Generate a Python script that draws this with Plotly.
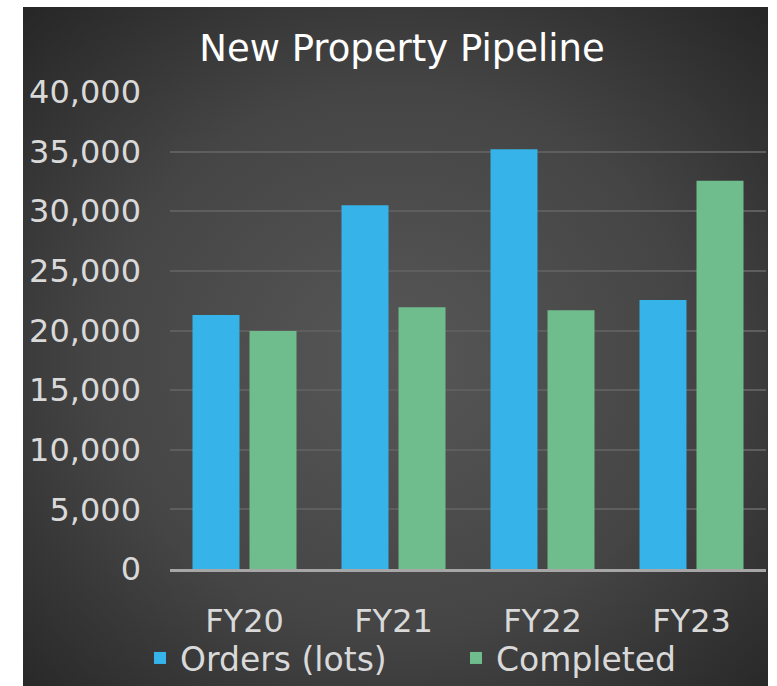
import base64
import plotly.graph_objects as go

categories = ["FY20", "FY21", "FY22", "FY23"]
orders = [21300, 30500, 35200, 22550]
completed = [19950, 21950, 21700, 32550]
series_names = ["Orders (lots)", "Completed"]
y_ticks = [0, 5000, 10000, 15000, 20000, 25000, 30000, 35000, 40000]
title_text = "New Property Pipeline"

W, H = 777, 686
L, R, T, B = 170, 11, 92, 117
pw, ph = W - L - R, H - T - B

def px_x(p):
    return (p - L) / pw

def px_y(p):
    return (H - B - p) / ph

svg = (
    '<svg xmlns="http://www.w3.org/2000/svg" width="745" height="679" '
    'viewBox="0 0 745 679" preserveAspectRatio="none">'
    '<defs><radialGradient id="g" cx="50%" cy="52%" r="72%" fx="50%" fy="52%">'
    '<stop offset="0" stop-color="#575757"/>'
    '<stop offset="0.55" stop-color="#454545"/>'
    '<stop offset="1" stop-color="#262626"/>'
    '</radialGradient></defs>'
    '<rect width="745" height="679" fill="url(#g)"/></svg>'
)
src = "data:image/svg+xml;base64," + base64.b64encode(svg.encode()).decode()

font_fam = "DejaVu Sans"
txt_col = "#d9d9d9"

fig = go.Figure()
fig.add_trace(go.Bar(x=categories, y=orders, name=series_names[0], legend="legend",
                     marker=dict(color="#36b3e8", line=dict(width=0))))
fig.add_trace(go.Bar(x=categories, y=completed, name=series_names[1], legend="legend2",
                     marker=dict(color="#6fbd8c", line=dict(width=0))))

leg_common = dict(orientation="h", xref="container", xanchor="left",
                  y=1 - 658 / H, yref="container", yanchor="middle",
                  font=dict(family=font_fam, size=33, color=txt_col),
                  bgcolor="rgba(0,0,0,0)", itemwidth=30)

fig.update_layout(
    width=W, height=H,
    margin=dict(l=L, r=R, t=T, b=B, pad=0, autoexpand=False),
    paper_bgcolor="white",
    plot_bgcolor="rgba(0,0,0,0)",
    barmode="group",
    bargap=0.235,
    bargroupgap=0.175,
    font=dict(family=font_fam, size=32, color=txt_col),
    title=dict(text=title_text, x=402 / W, xref="container", xanchor="center",
               y=1 - 48 / H, yref="container", yanchor="middle",
               font=dict(family=font_fam, size=37, color="white")),
    images=[dict(source=src, xref="paper", yref="paper",
                 x=px_x(23), y=px_y(7),
                 sizex=px_x(768) - px_x(23), sizey=px_y(7) - px_y(686),
                 xanchor="left", yanchor="top", sizing="stretch", layer="below")],
    legend=dict(x=140 / W, **leg_common),
    legend2=dict(x=456 / W, **leg_common),
    showlegend=True,
)
fig.update_yaxes(range=[0, 40000], tickvals=y_ticks,
                 ticktext=[f"{v:,}" for v in y_ticks],
                 showgrid=True, gridcolor="#5e5e5e", gridwidth=2,
                 zeroline=False, showline=False, ticks="",
                 ticklabelstandoff=28, automargin=False,
                 tickfont=dict(family=font_fam, size=32, color=txt_col))
fig.update_xaxes(showgrid=False, showline=True, linecolor="#a6a6a6", linewidth=3,
                 ticks="", ticklabelstandoff=22, automargin=False,
                 tickfont=dict(family=font_fam, size=32, color=txt_col))

fig.write_html("out.html", config={"displayModeBar": False},
               post_script="document.body.style.margin='0';document.body.style.padding='0';")
